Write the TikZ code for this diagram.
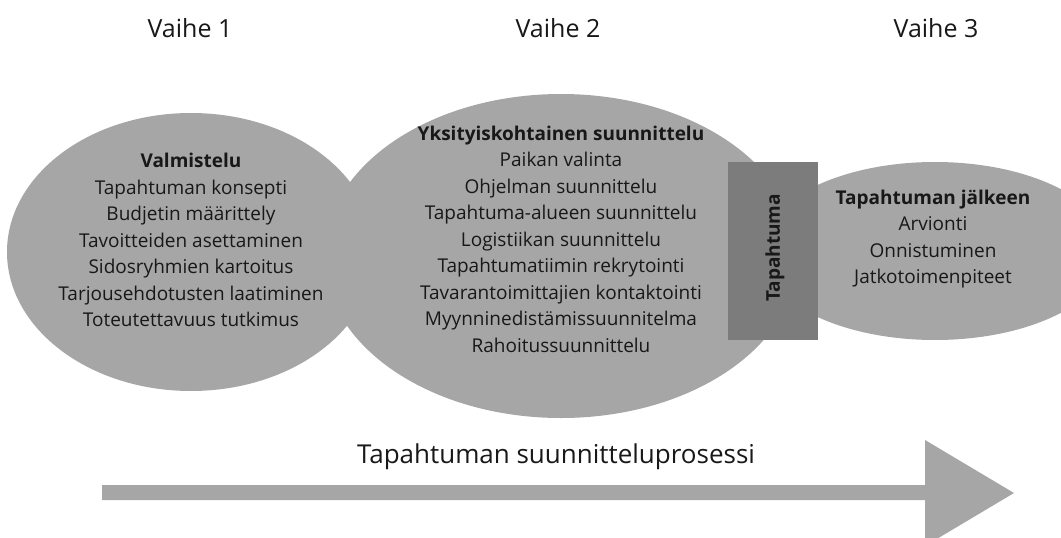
\documentclass[tikz,border=0pt]{standalone}
\usepackage{fontspec}
\setmainfont{Open Sans}
\usetikzlibrary{positioning}
\definecolor{BlobGray}{RGB}{166,166,166}
\definecolor{EventGray}{RGB}{124,124,124}
\definecolor{InkBlack}{RGB}{24,24,24}

\tikzset{
  phase/.style={font=\fontsize{25}{30}\selectfont, text=InkBlack},
  blobtext/.style={align=center, inner sep=0pt, text=InkBlack,
    font=\fontsize{19}{26.5}\selectfont},
}

\begin{document}
\begin{tikzpicture}[x=1pt,y=-1pt]
  \clip (0,0) rectangle (1061,538);
  % vaiheet
  \node[phase] (v1) at (190,28) {Vaihe 1};
  \node[phase] (v2) at (558,28) {Vaihe 2};
  \node[phase] (v3) at (936,28) {Vaihe 3};
  % soikiot
  \fill[BlobGray] (191,252) ellipse [x radius=184, y radius=139];
  \fill[BlobGray] (561,256) ellipse [x radius=237, y radius=162];
  \fill[BlobGray] (935,251) ellipse [x radius=175, y radius=89];
  \fill[EventGray] (728,162) rectangle (818,340);
  \node[blobtext] (prep) at (191,240) {\textbf{Valmistelu}\\
    Tapahtuman konsepti\\Budjetin määrittely\\Tavoitteiden asettaminen\\
    Sidosryhmien kartoitus\\Tarjousehdotusten laatiminen\\
    Toteutettavuus tutkimus};
  \node[blobtext] (detail) at (561,239) {\textbf{Yksityiskohtainen suunnittelu}\\
    Paikan valinta\\Ohjelman suunnittelu\\Tapahtuma-alueen suunnittelu\\
    Logistiikan suunnittelu\\Tapahtumatiimin rekrytointi\\
    Tavarantoimittajien kontaktointi\\Myynninedistämissuunnitelma\\
    Rahoitussuunnittelu};
  \node[blobtext] (after) at (933,239) {\textbf{Tapahtuman jälkeen}\\
    Arvionti\\Onnistuminen\\Jatkotoimenpiteet};
  \node[blobtext, rotate=90] (event) at (775,248) {\textbf{Tapahtuma}};
  % nuoli
  \fill[BlobGray] (102,485) -- (925,485) -- (925,440) -- (1014,493)
    -- (925,546) -- (925,500) -- (102,500) -- cycle;
  \node[font=\fontsize{26}{31}\selectfont, text=InkBlack] (process)
    at (556,457) {Tapahtuman suunnitteluprosessi};
\end{tikzpicture}
\end{document}
